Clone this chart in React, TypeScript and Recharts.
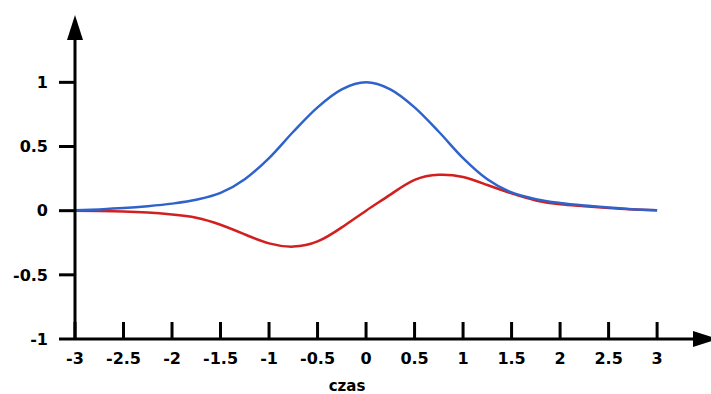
import { LineChart, Line, XAxis, YAxis, ReferenceDot } from "recharts";

// czas (x) values, every 0.25
const czas = [
  -3, -2.75, -2.5, -2.25, -2, -1.75, -1.5, -1.25, -1, -0.75, -0.5, -0.25, 0,
  0.25, 0.5, 0.75, 1, 1.25, 1.5, 1.75, 2, 2.25, 2.5, 2.75, 3,
];
// blue curve
const niebieska = [
  0.003, 0.01, 0.02, 0.035, 0.055, 0.085, 0.138, 0.245, 0.41, 0.615, 0.805, 0.945, 1.0,
  0.945, 0.805, 0.615, 0.41, 0.245, 0.142, 0.09, 0.06, 0.04, 0.025, 0.012, 0.003,
];
// red curve
const czerwona = [
  0, -0.002, -0.006, -0.015, -0.03, -0.055, -0.11, -0.185, -0.255, -0.28, -0.24, -0.13, 0,
  0.125, 0.24, 0.28, 0.262, 0.2, 0.135, 0.08, 0.05, 0.035, 0.02, 0.01, 0.003,
];
const xTicks = [-3, -2.5, -2, -1.5, -1, -0.5, 0, 0.5, 1, 1.5, 2, 2.5, 3];
const yTicks = [-1, -0.5, 0, 0.5, 1];

const X_MAX = 3.37;
const Y_MAX = 1.33;

const data = czas.map((x, i) => ({ x, blue: niebieska[i], red: czerwona[i] }));

const font = "'DejaVu Sans', Verdana, sans-serif";

const XTick = (props: any) => {
  const { x, y, payload } = props;
  return (
    <g>
      <line x1={x} x2={x} y1={y - 17} y2={y} stroke="#000" strokeWidth={3} />
      <text x={x} y={y + 25} textAnchor="middle" fontFamily={font} fontWeight="bold" fontSize={16} fill="#000">
        {payload.value}
      </text>
    </g>
  );
};

const ArrowRight = (props: any) => {
  const { cx, cy } = props;
  return <polygon points={`${cx},${cy - 8} ${cx + 25},${cy} ${cx},${cy + 8}`} fill="#000" />;
};

const ArrowUp = (props: any) => {
  const { cx, cy } = props;
  return <polygon points={`${cx - 8},${cy} ${cx},${cy - 25} ${cx + 8},${cy}`} fill="#000" />;
};

export default function App() {
  return (
    <div style={{ position: "absolute", left: 0, top: 0, background: "#fff" }}>
      <LineChart width={711} height={394} data={data} margin={{ top: 40, right: 18, bottom: 25, left: 15 }}>
        <XAxis
          dataKey="x"
          type="number"
          domain={[-3, X_MAX]}
          ticks={xTicks}
          allowDataOverflow
          height={30}
          tickSize={0}
          tickMargin={0}
          tickLine={false}
          axisLine={{ stroke: "#000", strokeWidth: 3 }}
          tick={<XTick />}
          label={{
            content: (p: any) => (
              <text
                x={p.viewBox.x + 272}
                y={p.viewBox.y + 52}
                textAnchor="middle"
                fontFamily={font}
                fontWeight="bold"
                fontSize={15}
                fill="#000"
              >
                czas
              </text>
            ),
          }}
        />
        <YAxis
          type="number"
          domain={[-1, Y_MAX]}
          ticks={yTicks}
          allowDataOverflow
          width={60}
          tickSize={16}
          tickMargin={11}
          tickLine={{ stroke: "#000", strokeWidth: 3 }}
          axisLine={{ stroke: "#000", strokeWidth: 3 }}
          tick={{ fill: "#000", fontFamily: font, fontWeight: "bold", fontSize: 16 }}
        />
        <Line type="natural" dataKey="red" stroke="#d21f1f" strokeWidth={2.5} dot={false} isAnimationActive={false} />
        <Line type="monotone" dataKey="blue" stroke="#2f63cc" strokeWidth={2.5} dot={false} isAnimationActive={false} />
        <ReferenceDot x={X_MAX} y={-1} r={0} ifOverflow="visible" shape={<ArrowRight />} />
        <ReferenceDot x={-3} y={Y_MAX} r={0} ifOverflow="visible" shape={<ArrowUp />} />
      </LineChart>
    </div>
  );
}
